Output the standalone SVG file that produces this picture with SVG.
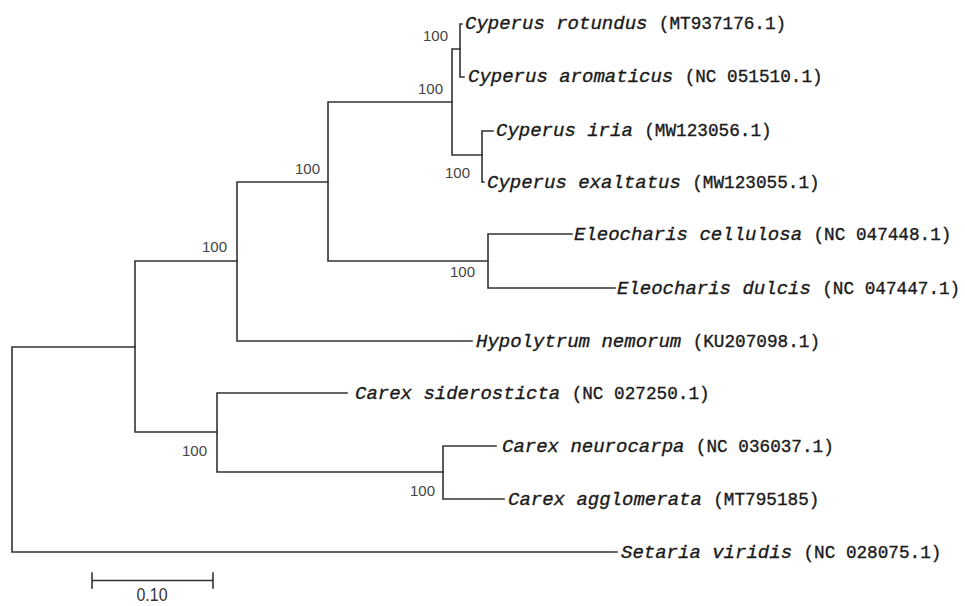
<svg xmlns="http://www.w3.org/2000/svg" width="965" height="606" viewBox="0 0 965 606">
<style>
.br{fill:none;stroke:#333;stroke-width:1.6;stroke-linecap:square}
.lab{font-family:"Liberation Mono","DejaVu Sans Mono",monospace;fill:#1a1a1a;stroke:#1a1a1a;stroke-width:0.35}
.sp{font-style:italic;font-size:19px}
.acc{font-size:17.7px}
.bs{font-family:"Liberation Sans",Arial,sans-serif;font-size:15px;fill:#444;text-anchor:end}
</style>
<rect width="965" height="606" fill="#fff"/>
<g id="connectors">
<path class="br" d="M135,347 H12 V552 H617"/>
<path class="br" d="M237,261 H135 V432 H217"/>
<path class="br" d="M328,182 H237 V341 H472"/>
<path class="br" d="M452,102 H328 V261 H488"/>
<path class="br" d="M460,49 H452 V155 H482"/>
<path class="br" d="M462,24 H460 V77 H464"/>
<path class="br" d="M493,131 H482 V182 H484"/>
<path class="br" d="M572,234 H488 V288 H615"/>
<path class="br" d="M347,393 H217 V472 H443"/>
<path class="br" d="M496,446 H443 V499 H504"/>
<path class="br" d="M92,580.5 H213 M92,573 V588 M213,573 V588"/>
</g>
<g id="n-rotundus"><text class="lab" x="465" y="29"><tspan class="sp">Cyperus rotundus </tspan><tspan class="acc">(MT937176.1)</tspan></text></g>
<g id="n-aromaticus"><text class="lab" x="468" y="82"><tspan class="sp">Cyperus aromaticus </tspan><tspan class="acc">(NC 051510.1)</tspan></text></g>
<g id="n-iria"><text class="lab" x="496" y="136"><tspan class="sp">Cyperus iria </tspan><tspan class="acc">(MW123056.1)</tspan></text></g>
<g id="n-exaltatus"><text class="lab" x="487" y="188"><tspan class="sp">Cyperus exaltatus </tspan><tspan class="acc">(MW123055.1)</tspan></text></g>
<g id="n-cellulosa"><text class="lab" x="574" y="240"><tspan class="sp">Eleocharis cellulosa </tspan><tspan class="acc">(NC 047448.1)</tspan></text></g>
<g id="n-dulcis"><text class="lab" x="617" y="294"><tspan class="sp">Eleocharis dulcis </tspan><tspan class="acc">(NC 047447.1)</tspan></text></g>
<g id="n-hypolytrum"><text class="lab" x="476" y="347"><tspan class="sp">Hypolytrum nemorum </tspan><tspan class="acc">(KU207098.1)</tspan></text></g>
<g id="n-siderosticta"><text class="lab" x="355" y="399"><tspan class="sp">Carex siderosticta </tspan><tspan class="acc">(NC 027250.1)</tspan></text></g>
<g id="n-neurocarpa"><text class="lab" x="502" y="452"><tspan class="sp">Carex neurocarpa </tspan><tspan class="acc">(NC 036037.1)</tspan></text></g>
<g id="n-agglomerata"><text class="lab" x="508" y="505"><tspan class="sp">Carex agglomerata </tspan><tspan class="acc">(MT795185)</tspan></text></g>
<g id="n-setaria"><text class="lab" x="621" y="558"><tspan class="sp">Setaria viridis </tspan><tspan class="acc">(NC 028075.1)</tspan></text></g>
<g id="bootstrap">
<text class="bs" x="448" y="41">100</text>
<text class="bs" x="443" y="94">100</text>
<text class="bs" x="470" y="178">100</text>
<text class="bs" x="320" y="174">100</text>
<text class="bs" x="227" y="252">100</text>
<text class="bs" x="475" y="277">100</text>
<text class="bs" x="207" y="456">100</text>
<text class="bs" x="435" y="496">100</text>
</g>
<g id="scale"><text x="152" y="601" font-family="Liberation Sans,Arial,sans-serif" font-size="18" fill="#333" text-anchor="middle" textLength="31" lengthAdjust="spacingAndGlyphs">0.10</text></g>
</svg>
